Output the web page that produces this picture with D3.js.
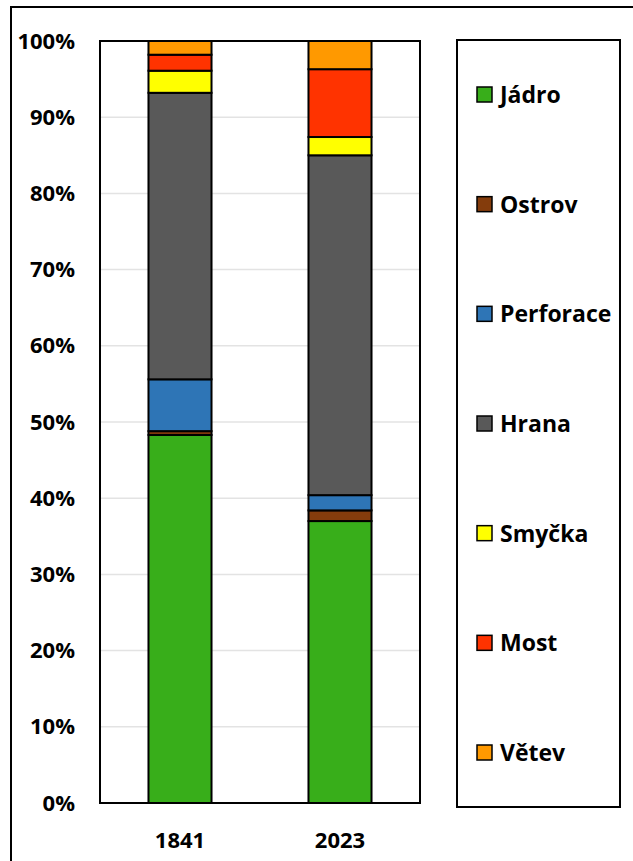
<!DOCTYPE html>
<html>
<head>
<meta charset="utf-8">
<script src="https://cdn.jsdelivr.net/npm/d3@7"></script>
<style>
  body { margin: 0; background: #fff; }
  text { font-family: "Open Sans", sans-serif; font-weight: bold; fill: #000; }
</style>
</head>
<body>
<div id="chart"></div>
<script>
// Data (share of each class, in %)
const years = ["1841", "2023"];
const classes = ["Jádro", "Ostrov", "Perforace", "Hrana", "Smyčka", "Most", "Větev"];
const colors = ["#38ae1a", "#843c0c", "#2e75b6", "#595959", "#ffff00", "#ff3300", "#ff9900"];
const values1841 = [48.3, 0.5, 6.8, 37.6, 2.9, 2.1, 1.8];
const values2023 = [37.0, 1.4, 2.0, 44.6, 2.4, 8.9, 3.7];
const yTicks = [0, 0.1, 0.2, 0.3, 0.4, 0.5, 0.6, 0.7, 0.8, 0.9, 1];

const W = 633, H = 861;
const plot = {left: 100, top: 41, right: 420, bottom: 803};

const svg = d3.select("#chart").append("svg")
    .attr("width", W)
    .attr("height", H);

// outer chart frame (runs off the right/bottom edge)
svg.append("rect")
    .attr("x", 11).attr("y", 7)
    .attr("width", W).attr("height", H)
    .attr("fill", "#fff")
    .attr("stroke", "#000")
    .attr("stroke-width", 2);

// build rows for stacking
const rows = years.map((yr, i) => {
  const vals = i === 0 ? values1841 : values2023;
  const row = {year: yr};
  classes.forEach((c, j) => row[c] = vals[j] / 100);
  return row;
});
const series = d3.stack().keys(classes)(rows);

const x = d3.scaleBand()
    .domain(years)
    .range([plot.left, plot.right])
    .paddingInner(0.606)
    .paddingOuter(0.303);

const y = d3.scaleLinear()
    .domain([0, 1])
    .range([plot.bottom, plot.top]);

const color = d3.scaleOrdinal().domain(classes).range(colors);

// gridlines
svg.append("g")
  .selectAll("line")
  .data(yTicks.slice(1, -1))
  .join("line")
    .attr("x1", plot.left).attr("x2", plot.right)
    .attr("y1", d => y(d)).attr("y2", d => y(d))
    .attr("stroke", "#e3e3e3")
    .attr("stroke-width", 1.5);

// stacked bars
svg.append("g")
  .selectAll("g")
  .data(series)
  .join("g")
    .attr("fill", d => color(d.key))
  .selectAll("rect")
  .data(d => d)
  .join("rect")
    .attr("x", d => x(d.data.year))
    .attr("y", d => y(d[1]))
    .attr("width", x.bandwidth())
    .attr("height", d => y(d[0]) - y(d[1]))
    .attr("stroke", "#000")
    .attr("stroke-width", 2);

// plot area border
svg.append("rect")
    .attr("x", plot.left).attr("y", plot.top)
    .attr("width", plot.right - plot.left)
    .attr("height", plot.bottom - plot.top)
    .attr("fill", "none")
    .attr("stroke", "#000")
    .attr("stroke-width", 2);

// Y axis
const yAxis = svg.append("g")
    .attr("transform", `translate(${plot.left},0)`)
    .call(d3.axisLeft(y).tickValues(yTicks).tickFormat(d3.format(".0%")).tickSize(0).tickPadding(25));
yAxis.select(".domain").remove();
yAxis.selectAll("text").style("font-size", "22px").attr("fill", "#000");

// X axis
const xAxis = svg.append("g")
    .attr("transform", `translate(0,${plot.bottom})`)
    .call(d3.axisBottom(x).tickSize(0).tickPadding(29));
xAxis.select(".domain").remove();
xAxis.selectAll("text").style("font-size", "22px").attr("fill", "#000");

// Legend
const legend = {left: 457, top: 40, right: 620, bottom: 807};
svg.append("rect")
    .attr("x", legend.left).attr("y", legend.top)
    .attr("width", legend.right - legend.left)
    .attr("height", legend.bottom - legend.top)
    .attr("fill", "#fff")
    .attr("stroke", "#000")
    .attr("stroke-width", 2);

const ly = d3.scalePoint().domain(classes).range([95, 753]);
const items = svg.append("g")
  .selectAll("g")
  .data(classes)
  .join("g")
    .attr("transform", d => `translate(477,${ly(d)})`);
items.append("rect")
    .attr("x", 0).attr("y", -8)
    .attr("width", 15).attr("height", 15)
    .attr("fill", d => color(d))
    .attr("stroke", "#000")
    .attr("stroke-width", 1.5);
items.append("text")
    .attr("x", 23)
    .attr("dy", "0.35em")
    .style("font-size", "23px")
    .text(d => d);
</script>
</body>
</html>
